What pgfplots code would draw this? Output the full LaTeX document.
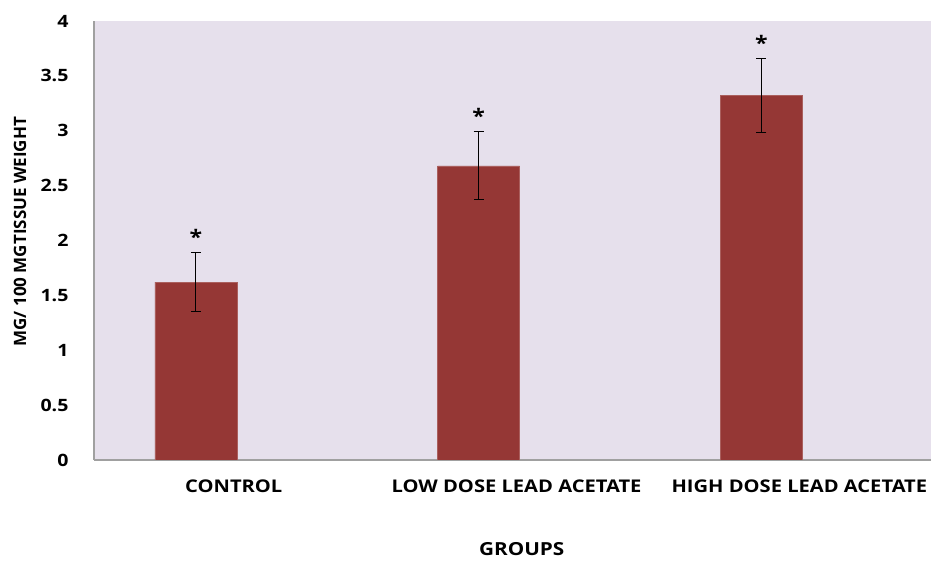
\documentclass[border=0pt]{standalone}
\usepackage{pgfplots}
\pgfplotsset{compat=1.18}
\usepackage{fontspec}
\setmainfont{Open Sans}
\newfontfamily\widefont{Open Sans}[FakeStretch=1.15]

\definecolor{plotbg}{HTML}{E6E0EC}
\definecolor{barred}{HTML}{953735}
\definecolor{axisgray}{HTML}{A0A0A0}

\begin{document}
\begin{tikzpicture}
\useasboundingbox (-94pt,-101pt) rectangle (837pt,460pt);
\begin{axis}[
  at={(0pt,0pt)}, anchor=south west,
  scale only axis, width=837pt, height=439pt,
  xmin=-0.36, xmax=2.6, ymin=0, ymax=4,
  axis background/.style={fill=plotbg},
  axis x line*=bottom, axis y line*=left,
  axis line style={axisgray, line width=1.2pt, -},
  major tick length=0pt,
  xtick={0,1,2},
  xticklabels={CONTROL, LOW DOSE LEAD ACETATE, HIGH DOSE LEAD ACETATE},
  ytick={0,0.5,...,4},
  /pgf/number format/assume math mode=true,
  /pgf/number format/fixed,
  xticklabel style={font=\widefont\bfseries\fontsize{17.5}{20}\selectfont,
    yshift=-16pt, xshift=38pt},
  yticklabel style={font=\widefont\bfseries\fontsize{17}{19}\selectfont, xshift=-22pt},
  xlabel={GROUPS},
  ylabel={MG/ 100 MGTISSUE WEIGHT},
  xlabel style={font=\widefont\bfseries\fontsize{18}{20}\selectfont,
    at={(axis description cs:0.511,-0.203)}, anchor=center},
  ylabel style={font=\bfseries\fontsize{17}{19}\selectfont,
    at={(axis description cs:-0.0884,0.52)}, anchor=center},
]
% mean values with standard error
\addplot[ybar, bar width=82pt, fill=barred, draw=barred!80!white,
  error bars/.cd, y dir=both, y explicit,
  error bar style={black, line width=1.1pt},
  error mark options={rotate=90, mark size=5pt, black, line width=1.1pt}]
  coordinates {
    (0,1.62) +- (0,0.27)
    (1,2.68) +- (0,0.31)
    (2,3.32) +- (0,0.335)
  };
% significance markers above the error bars
\addplot[draw=none, mark=none,
  nodes near coords={\bfseries *},
  every node near coord/.append style={font=\widefont\fontsize{20}{22}\selectfont, anchor=south, yshift=5pt}]
  coordinates {(0,1.89) (1,2.99) (2,3.655)};
\end{axis}
\end{tikzpicture}
\end{document}
